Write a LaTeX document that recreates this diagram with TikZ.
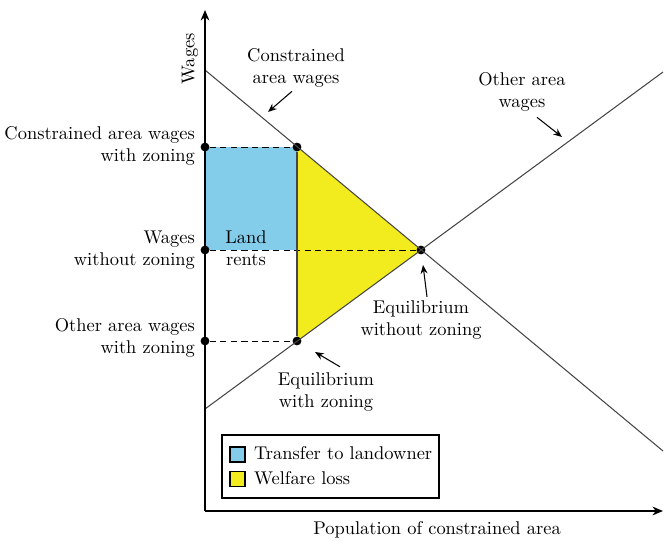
\documentclass[tikz,border=0pt]{standalone}
\usetikzlibrary{arrows.meta, positioning}
\definecolor{rentblue}{RGB}{132, 205, 234}
\definecolor{lossyellow}{RGB}{242, 236, 30}
\definecolor{curvegray}{RGB}{70, 70, 70}

\begin{document}
\begin{tikzpicture}[
    x=0.02cm, y=-0.02cm,
    axis/.style={-{Stealth[length=6pt, width=5pt]}, thick},
    curve/.style={curvegray, semithick},
    guide/.style={dash pattern=on 3.5pt off 2.5pt, thin},
    dot/.style={circle, fill=black, inner sep=0pt, minimum size=5pt},
    lbl/.style={font=\fontsize{10.5}{12.3}\selectfont, align=center, inner sep=1pt},
    pointer/.style={-{Stealth[length=5pt, width=4pt]}, semithick},
    swatch/.style={draw, semithick, fill=#1, minimum size=0.3cm, inner sep=0pt},
]
    \useasboundingbox (0,0) rectangle (664,541);

    % axes and wage lines
    \coordinate (O) at (205,511);
    \coordinate (ytop) at (205,10);
    \coordinate (xend) at (663,511);
    \coordinate (cStart) at (205,70);
    \coordinate (cEnd) at (663,451);
    \coordinate (oStart) at (205,409);
    \coordinate (oEnd) at (663,72);
    \coordinate (rentcorner) at (297,250);

    \fill[rentblue] (205,147) rectangle (rentcorner);
    \fill[lossyellow] (297,147) -- (421,250) -- (297,341) -- cycle;

    \node[dot] (wcz) at (205,147) {};
    \node[dot] (pcz) at (297,147) {};
    \node[dot] (wnz) at (205,250) {};
    \node[dot] (eq) at (421,250) {};
    \node[dot] (woz) at (205,341) {};
    \node[dot] (ez) at (297,341) {};

    \draw[curve] (cStart) -- (cEnd);
    \draw[curve] (oStart) -- (oEnd);
    \draw[guide] (wcz) -- (pcz);
    \draw[guide] (wnz) -- (eq);
    \draw[guide] (woz) -- (ez);
    \draw[curvegray, semithick] (pcz) -- (ez);
    \draw[axis] (O) -- (ytop);
    \draw[axis] (O) -- (xend);

    % labels
    \node[lbl, rotate=90] (wages) at (190,59) {Wages};
    \node[lbl] (xlab) at (437,530) {Population of constrained area};
    \node[lbl] (clab) at (296,68) {Constrained\\area wages};
    \node[lbl] (olab) at (522,92) {Other area\\wages};
    \node[lbl, align=right, anchor=east] (lczw) at (197,146) {Constrained area wages\\with zoning};
    \node[lbl, align=right, anchor=east] (lwnz) at (197,250) {Wages\\without zoning};
    \node[lbl, align=right, anchor=east] (lozw) at (197,338) {Other area wages\\with zoning};
    \node[lbl] (rents) at (246,248) {Land\\rents};
    \node[lbl] (leqnz) at (421,320) {Equilibrium\\without zoning};
    \node[lbl] (leqz) at (326,392) {Equilibrium\\with zoning};

    \coordinate (cTip) at (268,112);
    \coordinate (oTip) at (562,137);
    \coordinate (eqTip) at (423,265);
    \coordinate (ezTip) at (315,352);
    \draw[pointer] (clab.south) ++(-4,2) -- (cTip);
    \draw[pointer] (olab.south) ++(15,4) -- (oTip);
    \draw[pointer] (leqnz.north) ++(6,-2) -- (eqTip);
    \draw[pointer] (leqz.north) ++(14,-4) -- (ezTip);

    % legend
    \draw[semithick] (222,435) rectangle (439,498);
    \node[swatch=rentblue] (sw1) at (237.5,454.5) {};
    \node[swatch=lossyellow] (sw2) at (237.5,479) {};
    \node[lbl, anchor=west] (lg1) at (252,453) {Transfer to landowner};
    \node[lbl, anchor=west] (lg2) at (252,478) {Welfare loss};
\end{tikzpicture}
\end{document}
